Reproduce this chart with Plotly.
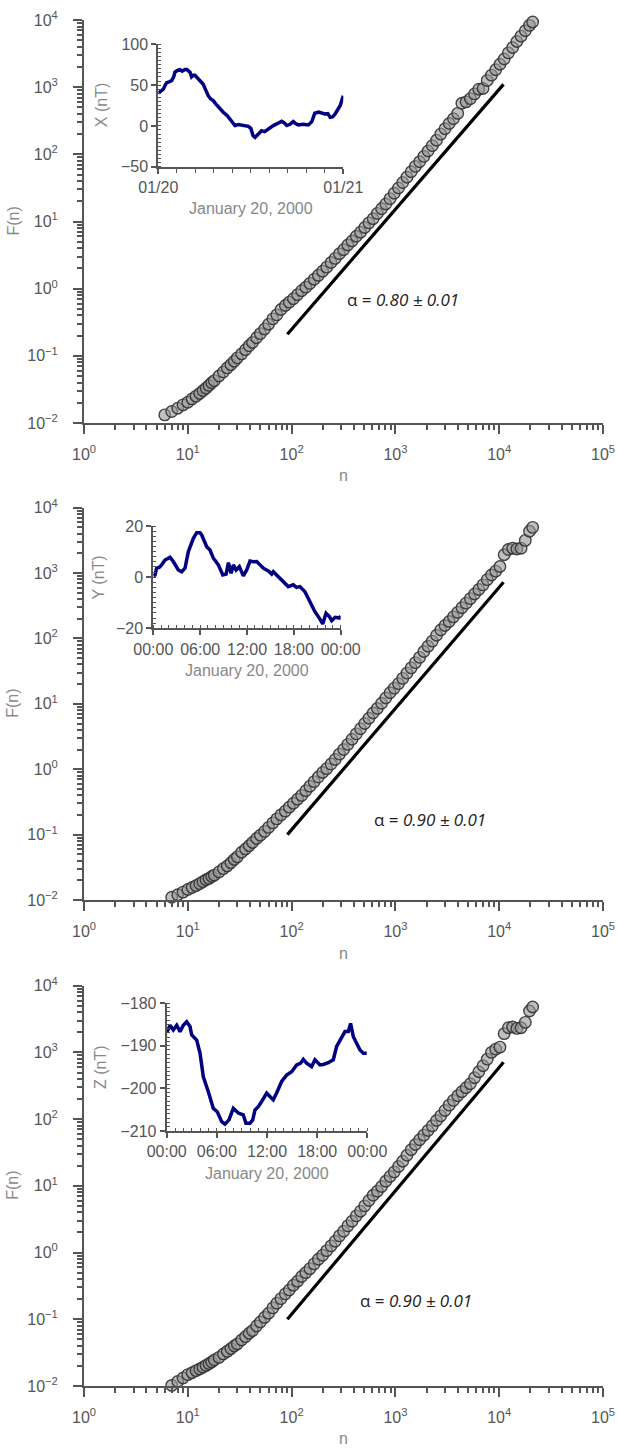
import plotly.graph_objects as go
import pandas as pd

# ---------------- data ----------------
n_scale = [6, 7, 8, 9, 10, 11, 12, 13, 14, 15,
           16, 17, 18, 20, 22, 24, 26, 28, 30, 33,
           36, 39, 42, 46, 50, 55, 60, 66, 72, 79,
           87, 95, 104, 114, 125, 137, 150, 165, 181, 199,
           218, 240, 263, 289, 317, 348, 382, 420, 461, 506,
           556, 610, 670, 736, 808, 888, 975, 1071, 1176, 1292,
           1419, 1558, 1711, 1880, 2064, 2267, 2490, 2735, 3004, 3299,
           3623, 3980, 4371, 4800, 5272, 5790, 6360, 6985, 7671, 8425,
           9253, 10163, 11162, 12259, 13464, 14788, 16241, 17838, 19591, 21000]

F_X = [0.0132, 0.0148, 0.0166, 0.0186, 0.0204, 0.0229, 0.0251, 0.0275, 0.0302, 0.0331,
       0.0363, 0.0398, 0.0427, 0.0501, 0.0575, 0.0661, 0.0741, 0.0832, 0.0933, 0.107,
       0.123, 0.141, 0.158, 0.186, 0.214, 0.251, 0.295, 0.355, 0.407, 0.490,
       0.562, 0.631, 0.708, 0.813, 0.933, 1.05, 1.20, 1.38, 1.58, 1.82,
       2.09, 2.45, 2.82, 3.31, 3.80, 4.47, 5.13, 6.03, 6.92, 8.13,
       9.55, 11.0, 13.2, 15.5, 18.2, 21.9, 26.3, 31.6, 38.0, 45.7,
       55.0, 66.1, 77.6, 93.3, 112, 135, 162, 200, 240, 288,
       339, 407, 575, 603, 676, 794, 933, 955, 1260, 1510,
       1820, 2190, 2630, 3240, 3890, 4790, 5750, 6920, 8320, 9330]

# panels Y and Z start at n = 7
F_Y = [0.0110, 0.0120, 0.0132, 0.0145, 0.0155, 0.0166, 0.0178, 0.0191, 0.0204,
       0.0214, 0.0229, 0.0240, 0.0269, 0.0302, 0.0331, 0.0372, 0.0417, 0.0457, 0.0537,
       0.0603, 0.0676, 0.0759, 0.0871, 0.0977, 0.112, 0.129, 0.151, 0.174, 0.200,
       0.229, 0.263, 0.302, 0.347, 0.398, 0.468, 0.550, 0.646, 0.759, 0.891,
       1.02, 1.20, 1.41, 1.70, 2.00, 2.40, 2.88, 3.47, 4.17, 5.01,
       6.03, 7.24, 8.51, 10.2, 12.3, 14.8, 17.4, 20.4, 24.5, 29.5,
       35.5, 42.7, 51.3, 63.1, 75.9, 91.2, 112, 135, 158, 182,
       214, 251, 295, 347, 407, 479, 562, 661, 794, 933,
       1070, 1260, 1910, 2290, 2400, 2340, 2400, 3160, 4370, 5010]

F_Z = [0.0102, 0.0117, 0.0132, 0.0148, 0.0158, 0.0170, 0.0180, 0.0191, 0.0204,
       0.0216, 0.0229, 0.0245, 0.0269, 0.0302, 0.0331, 0.0363, 0.0398, 0.0427, 0.0490,
       0.0550, 0.0617, 0.0676, 0.0794, 0.0912, 0.107, 0.123, 0.148, 0.174, 0.204,
       0.240, 0.275, 0.324, 0.372, 0.437, 0.501, 0.575, 0.676, 0.794, 0.912,
       1.07, 1.26, 1.48, 1.78, 2.09, 2.51, 2.95, 3.55, 4.17, 5.01,
       6.03, 7.24, 8.32, 9.77, 11.7, 13.8, 16.2, 19.5, 23.4, 28.8,
       34.7, 41.7, 49.0, 57.5, 67.6, 79.4, 95.5, 112, 135, 162,
       191, 224, 257, 295, 339, 417, 513, 631, 794, 1000,
       1120, 1200, 1910, 2340, 2400, 2290, 2340, 2820, 4170, 4790]

fit_n = [91, 11000]
fit_X = [0.21, 1100]
fit_Y = [0.10, 725]
fit_Z = [0.10, 710]

alpha_labels = ["0.80 ± 0.01", "0.90 ± 0.01", "0.90 ± 0.01"]

# inset time series (hours after 2000-01-20 00:00, nT)
hours_X = [0.0, 0.13, 0.4, 0.65, 0.9, 1.09, 1.4, 1.73, 2.0, 2.16, 2.5, 2.81, 3.1, 3.46, 3.7, 3.89,
           4.1, 4.32, 4.55, 4.76, 5.1, 5.4, 5.83, 6.1, 6.48, 6.8, 7.13, 7.45, 7.78, 8.1, 8.43,
           8.9, 9.3, 9.6, 9.95, 10.38, 10.8, 11.2, 11.68, 12.0, 12.3, 12.55, 12.97, 13.4, 13.8,
           14.27, 14.6, 14.92, 15.5, 16.0, 16.3, 16.66, 17.1, 17.5, 17.8, 18.16, 18.8, 19.46,
           19.9, 20.3, 20.8, 21.2, 21.6, 22.0, 22.3, 22.6, 22.9, 23.35, 23.6, 23.8, 24.0]
X_nT = [40, 41, 44, 45, 50, 53, 54, 55.5, 60, 66, 68, 69, 67, 69, 69, 67,
        66, 60, 62, 62, 58, 55.5, 51, 45, 37, 33, 31, 27, 23, 20, 16.7,
        13, 8.6, 4, 0.4, 1.6, 1, 0.5, -0.5, -3, -12, -14, -10, -6, -7,
        -3.7, -2, 0.4, 3, 5.6, 4, 0.4, 2, 5.3, 3, 1.2, 2, 1.2,
        5, 15.5, 17, 16, 14.7, 15, 10.5, 11, 14, 21, 25, 31, 37]

hours_Y = [0.0, 0.22, 0.43, 0.75, 1.07, 1.5, 1.8, 2.14, 2.56, 2.9, 3.2, 3.63, 4.06, 4.49, 4.8,
           5.13, 5.56, 5.98, 6.2, 6.41, 6.84, 7.26, 7.69, 8.0, 8.33, 8.9, 9.33, 9.62, 9.96,
           10.26, 10.6, 11.02, 11.53, 11.96, 12.38, 12.8, 13.24, 13.67, 14.09, 14.73, 15.16,
           15.37, 16.0, 16.63, 17.28, 17.92, 18.35, 18.78, 19.42, 20.06, 20.7, 21.26, 21.7,
           22.12, 22.55, 22.85, 23.28, 23.83, 24.0]
Y_nT = [0.5, 0.9, 3.5, 3.8, 4.8, 6.7, 7.2, 7.8, 6.1, 4.2, 2.8, 2.1, 3.5, 10, 13,
        15.2, 17.4, 17.4, 16.5, 15.2, 11.9, 10.6, 7.4, 6.2, 4.8, 0.9, 1.2, 5.7, 1.5,
        4.8, 2.8, 4.1, 0.5, 2.8, 6.3, 6, 6.1, 4.8, 3.5, 2.4, 1.2,
        2.1, 0.2, -1.8, -3.7, -3, -4, -3.7, -5.7, -9.6, -13.5, -16, -18.3,
        -14.1, -15.4, -17, -15.7, -16, -15.2]

hours_Z = [0.0, 0.07, 0.4, 0.79, 1.2, 1.6, 1.99, 2.39, 2.79, 2.99, 3.59, 3.99, 4.38, 4.98,
           5.58, 6.05, 6.58, 6.97, 7.45, 7.97, 8.57, 9.16, 9.48, 9.96, 10.29, 10.56, 10.96,
           11.36, 11.96, 12.35, 12.75, 13.15, 13.75, 14.35, 14.95, 15.55, 16.03, 16.34, 16.74,
           17.34, 17.74, 18.34, 18.73, 19.33, 19.93, 20.33, 20.93, 21.33, 21.73, 22.0, 22.33,
           22.73, 23.13, 23.53, 23.93]
Z_nT = [-187, -186.7, -185.2, -186.3, -185.2, -186.7, -185.2, -184.4, -185.5, -187.5,
        -188.7, -191.8, -197.3, -200.8, -204.7, -205.5, -207.8, -208.4, -207.4, -204.7,
        -205.8, -206.2, -208.2, -208.2, -207.4, -205.1, -204.3, -203.1, -201.1, -201.9,
        -202.7, -201.1, -198.4, -196.9, -196.1, -194.5, -194.1, -193.2, -194.1, -194.9,
        -193.3, -194.5, -194.4, -194.0, -193.3, -190.2, -188.3, -186.7, -186.7, -184.8,
        -187.9, -189.4, -191.0, -191.8, -191.8]

# ---------------- helpers ----------------
W, H = 617, 1450
def px(x):
    return x / W
def py(y):
    return 1 - y / H

day0 = pd.Timestamp("2000-01-20")
def to_time(hours):
    return [day0 + pd.Timedelta(hours=h) for h in hours]

AX = "#555555"
TITLE = "#888888"
TICKFONT = dict(family="Liberation Sans, Arial, sans-serif", size=16, color=AX)

major_vals_x = [1, 10, 100, 1000, 10000, 100000]
major_text_x = ["10<sup>%d</sup>" % k for k in range(0, 6)]
major_vals_y = [0.01, 0.1, 1, 10, 100, 1000, 10000]
major_text_y = ["10<sup>−2</sup>", "10<sup>−1</sup>"] + ["10<sup>%d</sup>" % k for k in range(0, 5)]
minor_x = [m * 10 ** k for k in range(0, 5) for m in range(2, 10)]
minor_y = [m * 10.0 ** k for k in range(-2, 4) for m in range(2, 10)]

main_xdom = [px(84), px(603)]
main_ydoms = [[py(423), py(20)], [py(900), py(507.7)], [py(1386), py(985.7)]]
inset_xdoms = [[px(158.3), px(343.3)], [px(153.3), px(340.7)], [px(166.7), px(367.3)]]
inset_ydoms = [[py(166.7), py(44.3)], [py(628.3), py(526)], [py(1131), py(1003)]]

fig = go.Figure()

panels = [
    (n_scale, F_X, fit_X),
    (n_scale[1:], F_Y, fit_Y),
    (n_scale[1:], F_Z, fit_Z),
]
for i, (nn, FF, fitF) in enumerate(panels):
    xa = "x" if i == 0 else "x%d" % (i + 1)
    ya = "y" if i == 0 else "y%d" % (i + 1)
    fig.add_trace(go.Scatter(
        x=nn, y=FF, mode="markers", xaxis=xa, yaxis=ya, cliponaxis=False,
        marker=dict(symbol="circle", size=11.5, color="rgba(150,150,150,0.6)",
                    line=dict(color="rgba(50,50,50,0.9)", width=1.4)),
        showlegend=False))
    fig.add_trace(go.Scatter(
        x=fit_n, y=fitF, mode="lines", xaxis=xa, yaxis=ya,
        line=dict(color="black", width=3.2), showlegend=False))

insets = [
    (hours_X, X_nT),
    (hours_Y, Y_nT),
    (hours_Z, Z_nT),
]
for j, (hh, vv) in enumerate(insets):
    k = j + 4
    fig.add_trace(go.Scatter(
        x=to_time(hh), y=vv, mode="lines", xaxis="x%d" % k, yaxis="y%d" % k,
        line=dict(color="#000080", width=3.5), showlegend=False))

layout = dict(
    width=W, height=H,
    margin=dict(l=0, r=0, t=0, b=0, autoexpand=False),
    paper_bgcolor="white", plot_bgcolor="rgba(0,0,0,0)",
    showlegend=False,
)

for i in range(3):
    sx = "xaxis" if i == 0 else "xaxis%d" % (i + 1)
    sy = "yaxis" if i == 0 else "yaxis%d" % (i + 1)
    anc_x = "y" if i == 0 else "y%d" % (i + 1)
    anc_y = "x" if i == 0 else "x%d" % (i + 1)
    layout[sx] = dict(
        type="log", range=[0, 5], domain=main_xdom, anchor=anc_x, automargin=False,
        showline=True, linecolor=AX, linewidth=2, showgrid=False, zeroline=False,
        ticks="outside", ticklen=9, tickwidth=2, tickcolor=AX,
        tickmode="array", tickvals=major_vals_x, ticktext=major_text_x,
        tickfont=TICKFONT, ticklabelstandoff=7,
        minor=dict(tickmode="array", tickvals=minor_x, ticks="outside",
                   ticklen=5, tickwidth=1.5, tickcolor=AX, showgrid=False),
    )
    layout[sy] = dict(
        type="log", range=[-2, 4], domain=main_ydoms[i], anchor=anc_y, automargin=False,
        showline=True, linecolor=AX, linewidth=2, showgrid=False, zeroline=False,
        ticks="outside", ticklen=9, tickwidth=2, tickcolor=AX,
        tickmode="array", tickvals=major_vals_y, ticktext=major_text_y,
        tickfont=TICKFONT, ticklabelstandoff=12,
        minor=dict(tickmode="array", tickvals=minor_y, ticks="outside",
                   ticklen=5, tickwidth=1.5, tickcolor=AX, showgrid=False),
    )

inset_y = [
    dict(range=[-50, 100], tickvals=[-50, 0, 50, 100], ticktext=["−50", "0", "50", "100"], mdt=5),
    dict(range=[-20, 20], tickvals=[-20, 0, 20], ticktext=["−20", "0", "20"], mdt=2),
    dict(range=[-210, -180], tickvals=[-210, -200, -190, -180],
         ticktext=["−210", "−200", "−190", "−180"], mdt=1),
]
t_range = [day0, day0 + pd.Timedelta(hours=24)]
for j in range(3):
    k = j + 4
    if j == 0:
        tv = [day0, day0 + pd.Timedelta(hours=24)]
        tt = ["01/20", "01/21"]
        xminor = dict(tick0=day0, dtick=8640000, ticks="outside", ticklen=4,
                      tickwidth=1.2, tickcolor=AX, showgrid=False)
    else:
        tv = to_time([0, 6, 12, 18, 24])
        tt = ["00:00", "06:00", "12:00", "18:00", "00:00"]
        xminor = dict(tick0=day0, dtick=3600000, ticks="inside", ticklen=3,
                      tickwidth=1, tickcolor=AX, showgrid=False)
    layout["xaxis%d" % k] = dict(
        type="date", range=t_range, domain=inset_xdoms[j], anchor="y%d" % k,
        automargin=False,
        showline=True, linecolor=AX, linewidth=2, showgrid=False, zeroline=False,
        ticks="outside", ticklen=5, tickwidth=2, tickcolor=AX,
        tickmode="array", tickvals=tv, ticktext=tt, tickfont=TICKFONT,
        minor=xminor,
    )
    iy = inset_y[j]
    layout["yaxis%d" % k] = dict(
        range=iy["range"], domain=inset_ydoms[j], anchor="x%d" % k, automargin=False,
        showline=True, linecolor=AX, linewidth=2, showgrid=False, zeroline=False,
        ticks="outside", ticklen=5, tickwidth=2, tickcolor=AX,
        tickmode="array", tickvals=iy["tickvals"], ticktext=iy["ticktext"],
        tickfont=TICKFONT,
        minor=dict(dtick=iy["mdt"], ticks="inside", ticklen=3, tickwidth=1,
                   tickcolor=AX, showgrid=False),
    )

TFONT = dict(family="Liberation Sans, Arial, sans-serif", size=16, color=TITLE)
annotations = []
# main axis titles
for (yc, ny) in [(221.5, 475), (703.8, 953), (1185.8, 1438)]:
    annotations.append(dict(text="F(n)", x=px(13), y=py(yc), xref="paper", yref="paper",
                            textangle=-90, showarrow=False, font=TFONT,
                            xanchor="center", yanchor="middle"))
    annotations.append(dict(text="n", x=px(343.5), y=py(ny), xref="paper", yref="paper",
                            showarrow=False, font=TFONT, xanchor="center", yanchor="middle"))
# inset titles
for (lab, xl, yl, xc, yb) in [("X (nT)", 101.7, 105.5, 250.8, 208),
                              ("Y (nT)", 98.3, 577.2, 247.0, 670),
                              ("Z (nT)", 100.0, 1067.0, 267.0, 1173)]:
    annotations.append(dict(text=lab, x=px(xl), y=py(yl), xref="paper", yref="paper",
                            textangle=-90, showarrow=False, font=TFONT,
                            xanchor="center", yanchor="middle"))
    annotations.append(dict(text="January 20, 2000", x=px(xc), y=py(yb), xref="paper",
                            yref="paper", showarrow=False, font=TFONT,
                            xanchor="center", yanchor="middle"))
# alpha labels
for lab, (xl, yc) in zip(alpha_labels, [(345, 300), (371.7, 819.3), (358.3, 1300)]):
    annotations.append(dict(text="α = <i>%s</i>" % lab, x=px(xl), y=py(yc), xref="paper",
                            yref="paper", showarrow=False, xanchor="left", yanchor="middle",
                            font=dict(family="Open Sans, sans-serif", size=17, color="#222222")))
layout["annotations"] = annotations

fig.update_layout(**layout)
fig.write_html("out.html")
